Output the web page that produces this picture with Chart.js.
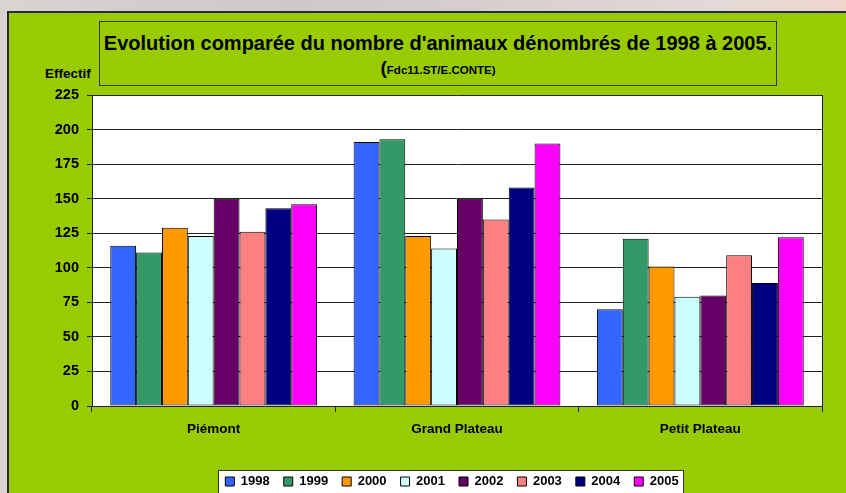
<!DOCTYPE html>
<html><head><meta charset="utf-8">
<script src="https://cdn.jsdelivr.net/npm/chart.js@4.4.0/dist/chart.umd.min.js"></script>
<style>
html,body{margin:0;padding:0;width:846px;height:493px;overflow:hidden;}
body{position:relative;background:linear-gradient(90deg,#d8d4d2 0%,#cdc8ca 35%,#d8cfcf 60%,#e3d9d6 85%,#f0d6cd 100%);font-family:"Liberation Sans",Arial,sans-serif;}
#panel{position:absolute;left:7px;top:11px;width:839px;height:482px;background:#99cc00;border-top:2px solid #2a2a2a;border-left:2px solid #2a2a2a;box-sizing:border-box;}
#titlebox{position:absolute;left:99px;top:21px;width:678px;height:65px;border:1px solid #333;box-sizing:border-box;text-align:center;color:#000;}
#t1{position:absolute;left:0;right:0;top:10px;font-weight:bold;font-size:20px;line-height:22px;white-space:nowrap;}
#t2{position:absolute;left:0;right:0;top:36px;font-weight:bold;line-height:20px;white-space:nowrap;}
#t2 .p{font-size:19px;}
#t2 .s{font-size:11.5px;}
#ylab{position:absolute;left:45px;top:66px;font-weight:bold;font-size:13.5px;line-height:16px;color:#000;}
canvas{position:absolute;left:0;top:0;}
</style>
</head><body>
<div id="panel"></div>
<div id="titlebox"><div id="t1">Evolution comparée du nombre d'animaux dénombrés de 1998 à 2005.</div><div id="t2"><span class="p">(</span><span class="s">Fdc11.ST/E.CONTE)</span></div></div>
<div id="ylab">Effectif</div>
<canvas id="c" width="846" height="498"></canvas>
<script>
const categories = ['Piémont', 'Grand Plateau', 'Petit Plateau'];
const years = ['1998', '1999', '2000', '2001', '2002', '2003', '2004', '2005'];
const v1998 = [116, 191, 70];
const v1999 = [111, 193, 121];
const v2000 = [129, 123, 101];
const v2001 = [123, 114, 79];
const v2002 = [150, 150, 80];
const v2003 = [126, 135, 109];
const v2004 = [143, 158, 89];
const v2005 = [146, 190, 122];
const yTicks = [0, 25, 50, 75, 100, 125, 150, 175, 200, 225];

const seriesValues = [v1998, v1999, v2000, v2001, v2002, v2003, v2004, v2005];
const colors = ['#3366FF', '#339966', '#FF9900', '#CCFFFF', '#660066', '#FF8080', '#000080', '#FF00FF'];
const FONT = '"Liberation Sans", Arial, sans-serif';

const bgPlugin = {
  id: 'bg',
  afterLayout(chart) {
    const lg = chart.legend;
    if (lg) { lg.left += 41; lg.right += 41; }
  },
  beforeDraw(chart) {
    const {ctx, chartArea: a} = chart;
    ctx.save();
    ctx.fillStyle = '#ffffff';
    ctx.fillRect(a.left, a.top, a.right - a.left, a.bottom - a.top);
    ctx.strokeStyle = '#222';
    ctx.lineWidth = 1;
    ctx.beginPath();
    ctx.moveTo(Math.round(a.right) + 0.5, a.top);
    ctx.lineTo(Math.round(a.right) + 0.5, a.bottom + 6);
    ctx.stroke();
    const lg = chart.legend;
    if (lg && lg.legendHitBoxes && lg.legendHitBoxes.length) {
      const hb = lg.legendHitBoxes;
      let l = Infinity, r = -Infinity, t = Infinity;
      hb.forEach(h => { l = Math.min(l, h.left); r = Math.max(r, h.left + h.width); t = Math.min(t, h.top); });
      const x0 = Math.round(l - 7) + 0.5, y0 = Math.round(t - 5) + 0.5, x1 = Math.round(r + 4) + 0.5;
      ctx.fillStyle = '#ffffff';
      ctx.fillRect(x0, y0, x1 - x0, chart.height - y0 + 5);
      ctx.strokeStyle = '#333';
      ctx.strokeRect(x0, y0, x1 - x0, chart.height - y0 + 5);
    }
    ctx.restore();
  }
};

new Chart(document.getElementById('c'), {
  type: 'bar',
  data: {
    labels: categories,
    datasets: years.map((y, i) => ({
      label: y,
      data: seriesValues[i],
      backgroundColor: colors[i],
      borderColor: '#000',
      borderWidth: 1,
      borderSkipped: false
    }))
  },
  options: {
    responsive: false,
    animation: false,
    events: [],
    layout: {padding: {left: 0, right: 24, top: 95, bottom: 0}},
    datasets: {bar: {categoryPercentage: 0.85, barPercentage: 1.0}},
    plugins: {
      title: {display: false},
      tooltip: {enabled: false},
      legend: {
        display: true,
        position: 'bottom',
        labels: {
          boxWidth: 9, boxHeight: 9, padding: 14, color: '#000',
          font: {family: FONT, size: 13, weight: 'bold'}
        }
      }
    },
    scales: {
      x: {
        afterFit(s) { s.height = 55; },
        grid: {display: true, drawOnChartArea: false, drawTicks: true, tickLength: 6, color: '#222', offset: true},
        border: {display: true, color: '#222', width: 1},
        ticks: {color: '#000', padding: 9, maxRotation: 0, font: {family: FONT, size: 13.5, weight: 'bold'}}
      },
      y: {
        min: 0, max: 225,
        afterFit(s) { s.width = 92; },
        afterBuildTicks(s) { s.ticks = yTicks.map(v => ({value: v})); },
        grid: {color: '#222', lineWidth: 1, tickLength: 5, drawTicks: true},
        border: {display: true, color: '#222', width: 1},
        ticks: {color: '#000', padding: 8, font: {family: FONT, size: 14.5, weight: 'bold'}}
      }
    }
  },
  plugins: [bgPlugin]
});
</script>
</body></html>
